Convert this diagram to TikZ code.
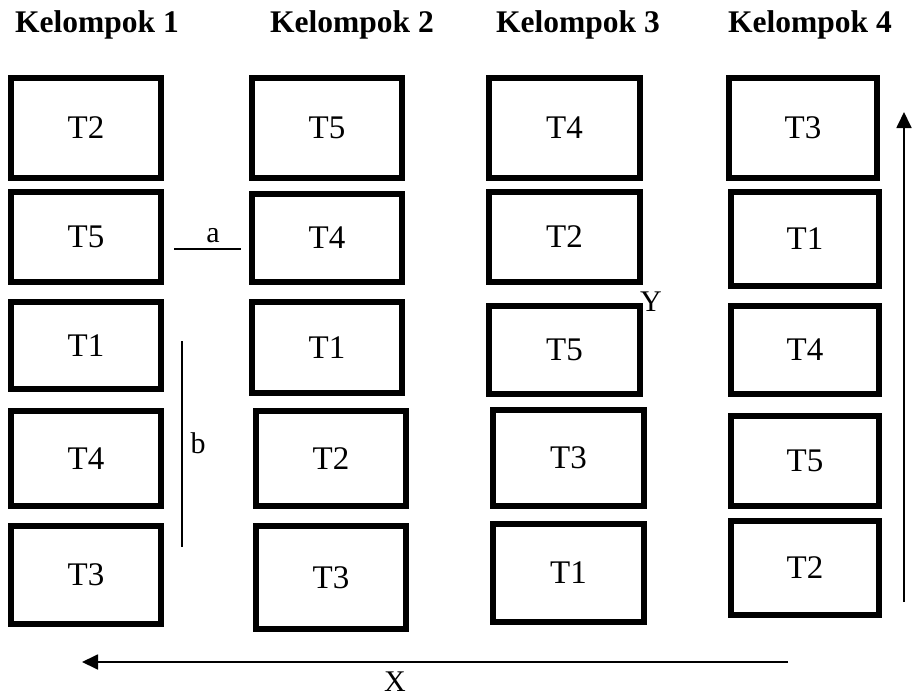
\documentclass[tikz,border=0pt]{standalone}
\usepackage{fontspec}
\setmainfont{Liberation Serif}
\usetikzlibrary{arrows.meta}

\tikzset{
  tbox/.style={draw=black, line width=6pt, fill=white, inner sep=0pt,
    font=\fontsize{33}{38}\selectfont},
  header/.style={font=\fontsize{31.5}{36}\selectfont\bfseries, anchor=base, inner sep=0pt},
  marklabel/.style={font=\fontsize{30}{34}\selectfont, inner sep=0pt},
  markline/.style={line width=1.5pt},
  axis/.style={line width=1.8pt, -{Triangle[length=16pt,width=15pt]}}
}

% \tboxat{name}{left}{top}{right}{bottom}{text}: outer edges of a thick box
\newcommand{\tboxat}[6]{%
  \node[tbox, minimum width={#4-#2-6}, minimum height={#5-#3-6}]
    (#1) at ({(#2+#4)/2},{(#3+#5)/2}) {#6};}

\begin{document}
\begin{tikzpicture}[x=1pt,y=-1pt]
\useasboundingbox (0,0) rectangle (914,699);

% group headings
\node[header] (h1) at (97,32) {Kelompok 1};
\node[header] (h2) at (352,32) {Kelompok 2};
\node[header] (h3) at (578,32) {Kelompok 3};
\node[header] (h4) at (810,32) {Kelompok 4};

% group 1
\tboxat{a1}{8}{75}{164}{181}{T2}
\tboxat{a2}{8}{189}{164}{285}{T5}
\tboxat{a3}{8}{299}{164}{392}{T1}
\tboxat{a4}{8}{408}{164}{509}{T4}
\tboxat{a5}{8}{523}{164}{627}{T3}

% group 2
\tboxat{b1}{249}{75}{405}{181}{T5}
\tboxat{b2}{249}{191}{405}{285}{T4}
\tboxat{b3}{249}{299}{405}{396}{T1}
\tboxat{b4}{253}{408}{409}{509}{T2}
\tboxat{b5}{253}{523}{409}{632}{T3}

% group 3
\tboxat{c1}{486}{75}{643}{181}{T4}
\tboxat{c2}{486}{189}{643}{285}{T2}
\tboxat{c3}{486}{303}{643}{397}{T5}
\tboxat{c4}{490}{407}{647}{509}{T3}
\tboxat{c5}{490}{521}{647}{625}{T1}

% group 4
\tboxat{d1}{726}{75}{880}{181}{T3}
\tboxat{d2}{728}{189}{882}{289}{T1}
\tboxat{d3}{728}{303}{882}{397}{T4}
\tboxat{d4}{728}{413}{882}{509}{T5}
\tboxat{d5}{728}{518}{882}{618}{T2}

% spacing marks a (between columns) and b (along a column)
\coordinate (aL) at (174,249);
\coordinate (aR) at (241,249);
\draw[markline] (aL) -- (aR);
\node[marklabel, anchor=base] (alab) at (213,242) {a};

\coordinate (bT) at (182,341);
\coordinate (bB) at (182,547);
\draw[markline] (bT) -- (bB);
\node[marklabel, anchor=base] (blab) at (198,453) {b};

% direction arrows X and Y
\coordinate (yS) at (904,602);
\coordinate (yE) at (904,112);
\draw[axis] (yS) -- (yE);
\node[marklabel, anchor=base] (ylab) at (651,311) {Y};

\coordinate (xS) at (788,662);
\coordinate (xE) at (82,662);
\draw[axis] (xS) -- (xE);
\node[marklabel, anchor=base] (xlab) at (395,691) {X};
\end{tikzpicture}
\end{document}
